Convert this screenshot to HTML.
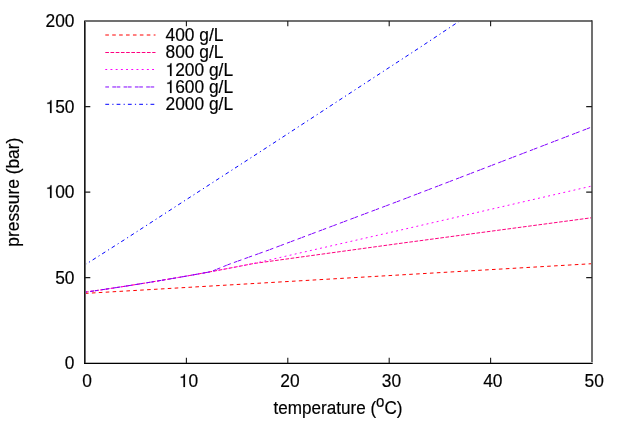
<!DOCTYPE html>
<html><head><meta charset="utf-8"><title>pressure vs temperature</title>
<style>
html,body{margin:0;padding:0;background:#fff;}
body{width:623px;height:436px;overflow:hidden;}
svg{display:block;will-change:transform;}
text{font-family:"Liberation Sans",sans-serif;font-size:18.15px;fill:#000;stroke:#000;stroke-width:0.18px;}
</style></head><body>
<svg width="623" height="436" viewBox="0 0 623 436">
<rect x="0" y="0" width="623" height="436" fill="#fff"/>
<path d="M85.00,293.40 L592.00,263.70" fill="none" stroke="#ff0000" stroke-width="1.0" stroke-dasharray="3.6 3.31" stroke-dashoffset="0"/>
<path d="M85.00,292.20 L93.00,291.05 L101.00,289.88 L109.00,288.69 L117.00,287.48 L125.00,286.24 L133.00,284.99 L141.00,283.71 L149.00,282.42 L157.00,281.10 L165.00,279.76 L173.00,278.40 L181.00,277.02 L189.00,275.62 L197.00,274.19 L205.00,272.75 L213.00,271.28 L221.00,269.80 L229.00,268.29 L237.00,266.76 L245.00,265.21 L253.00,263.64 L253.30,263.58 L400.00,243.40 L592.00,217.70" fill="none" stroke="#ff0080" stroke-width="1.0" stroke-dasharray="3.65 1.56" stroke-dashoffset="0"/>
<path d="M85.00,292.20 L93.00,291.05 L101.00,289.88 L109.00,288.69 L117.00,287.48 L125.00,286.24 L133.00,284.99 L141.00,283.71 L149.00,282.42 L157.00,281.10 L165.00,279.76 L173.00,278.40 L181.00,277.02 L189.00,275.62 L197.00,274.19 L205.00,272.75 L213.00,271.28 L221.00,269.80 L229.00,268.29 L237.00,266.76 L245.00,265.21 L253.00,263.64 L253.30,263.58 L400.00,230.20 L592.00,186.00" fill="none" stroke="#ff00ff" stroke-width="1.0" stroke-dasharray="1.9 3.3" stroke-dashoffset="0"/>
<path d="M85.00,292.20 L93.00,291.05 L101.00,289.88 L109.00,288.69 L117.00,287.48 L125.00,286.24 L133.00,284.99 L141.00,283.71 L149.00,282.42 L157.00,281.10 L165.00,279.76 L173.00,278.40 L181.00,277.02 L189.00,275.62 L197.00,274.19 L205.00,272.75 L211.00,271.65 L229.00,264.30 L268.00,250.30 L400.00,200.60 L592.00,126.90" fill="none" stroke="#8000ff" stroke-width="1.0" stroke-dasharray="3.7 0.6 3.7 3.3" stroke-dashoffset="5.9"/>
<path d="M85.00,264.80 L124.00,240.00 L270.00,145.40 L420.00,47.40 L459.60,21.00" fill="none" stroke="#0000ff" stroke-width="1.0" stroke-dasharray="3.8 3.2 1.2 3.1" stroke-dashoffset="2.3"/>
<path d="M105.3,35.0 L155.5,35.0" fill="none" stroke="#ff0000" stroke-width="1.0" stroke-dasharray="3.6 3.31" stroke-dashoffset="0"/>
<g transform="translate(165.5,41) scale(0.957,1)"><text text-anchor="start">400 g/L</text></g>
<path d="M105.3,52.5 L155.5,52.5" fill="none" stroke="#ff0080" stroke-width="1.0" stroke-dasharray="3.65 1.56" stroke-dashoffset="0"/>
<g transform="translate(165.5,58) scale(0.957,1)"><text text-anchor="start">800 g/L</text></g>
<path d="M105.3,69.5 L155.5,69.5" fill="none" stroke="#ff00ff" stroke-width="1.0" stroke-dasharray="1.9 3.3" stroke-dashoffset="0"/>
<path transform="translate(165.50,76) scale(0.01737,-0.01815)" d="M259,505 L259,0 L347,0 L347,709 L289,709 C262,604 236,584 102,568 L102,505 Z" fill="#000" stroke="#000" stroke-width="10"/>
<g transform="translate(175.16,76) scale(0.957,1)"><text text-anchor="start">200 g/L</text></g>
<path d="M105.3,86.98 L155.5,86.98" fill="none" stroke="#8000ff" stroke-width="1.0" stroke-dasharray="3.7 0.6 3.7 3.3" stroke-dashoffset="4.3"/>
<path transform="translate(165.50,93) scale(0.01737,-0.01815)" d="M259,505 L259,0 L347,0 L347,709 L289,709 C262,604 236,584 102,568 L102,505 Z" fill="#000" stroke="#000" stroke-width="10"/>
<g transform="translate(175.16,93) scale(0.957,1)"><text text-anchor="start">600 g/L</text></g>
<path d="M105.3,104.3 L155.5,104.3" fill="none" stroke="#0000ff" stroke-width="1.0" stroke-dasharray="3.8 3.2 1.2 3.1" stroke-dashoffset="0"/>
<g transform="translate(165.5,110) scale(0.957,1)"><text text-anchor="start">2000 g/L</text></g>
<g shape-rendering="crispEdges">
<rect x="84" y="20" width="509" height="2" fill="#707070"/>
<rect x="591" y="20" width="2" height="344" fill="#707070"/>
<rect x="84" y="20" width="1" height="344" fill="#181818"/>
<rect x="85" y="20" width="1" height="344" fill="#6a6a6a"/>
<rect x="84" y="362" width="509" height="1" fill="#b8b8b8"/>
<rect x="84" y="363" width="509" height="1" fill="#000"/>
<rect x="84" y="362" width="1" height="1" fill="#181818"/>
<rect x="85" y="362" width="1" height="1" fill="#5a5a5a"/>
<rect x="84" y="20" width="1" height="1" fill="#888"/>
<rect x="85" y="20" width="1" height="1" fill="#707070"/>
<rect x="591" y="20" width="1" height="2" fill="#484848"/>
<rect x="592" y="20" width="1" height="1" fill="#999"/>
<rect x="592" y="363" width="1" height="1" fill="#555"/>
</g>
<path d="M186.40,363.0 v-5.3 M186.40,21.0 v5.3 M287.80,363.0 v-5.3 M287.80,21.0 v5.3 M389.20,363.0 v-5.3 M389.20,21.0 v5.3 M490.60,363.0 v-5.3 M490.60,21.0 v5.3 M85.0,277.60 h5.3 M592.0,277.60 h-5.8 M85.0,192.10 h5.3 M592.0,192.10 h-5.8 M85.0,106.60 h5.3 M592.0,106.60 h-5.8" fill="none" stroke="#1c1c1c" stroke-width="1.12"/>
<g transform="translate(74.5,369) scale(0.957,1)"><text text-anchor="end">0</text></g>
<g transform="translate(74.5,284) scale(0.957,1)"><text text-anchor="end">50</text></g>
<path transform="translate(45.53,198) scale(0.01737,-0.01815)" d="M259,505 L259,0 L347,0 L347,709 L289,709 C262,604 236,584 102,568 L102,505 Z" fill="#000" stroke="#000" stroke-width="10"/>
<g transform="translate(55.19,198) scale(0.957,1)"><text text-anchor="start">00</text></g>
<path transform="translate(45.53,113) scale(0.01737,-0.01815)" d="M259,505 L259,0 L347,0 L347,709 L289,709 C262,604 236,584 102,568 L102,505 Z" fill="#000" stroke="#000" stroke-width="10"/>
<g transform="translate(55.19,113) scale(0.957,1)"><text text-anchor="start">50</text></g>
<g transform="translate(74.5,27) scale(0.957,1)"><text text-anchor="end">200</text></g>
<g transform="translate(87.2,387) scale(0.957,1)"><text text-anchor="middle">0</text></g>
<path transform="translate(178.94,387) scale(0.01737,-0.01815)" d="M259,505 L259,0 L347,0 L347,709 L289,709 C262,604 236,584 102,568 L102,505 Z" fill="#000" stroke="#000" stroke-width="10"/>
<g transform="translate(188.6,387) scale(0.957,1)"><text text-anchor="start">0</text></g>
<g transform="translate(290.0,387) scale(0.957,1)"><text text-anchor="middle">20</text></g>
<g transform="translate(391.4,387) scale(0.957,1)"><text text-anchor="middle">30</text></g>
<g transform="translate(492.8,387) scale(0.957,1)"><text text-anchor="middle">40</text></g>
<g transform="translate(594.2,387) scale(0.957,1)"><text text-anchor="middle">50</text></g>
<g transform="translate(338,414) scale(0.942,1)"><text text-anchor="middle">temperature (<tspan font-size="16.0" dy="-7.2">o</tspan><tspan dy="7.2">C)</tspan></text></g>
<g transform="translate(19.4,192.2) rotate(-90) scale(0.957,1)"><text text-anchor="middle">pressure (bar)</text></g>
</svg>
</body></html>
